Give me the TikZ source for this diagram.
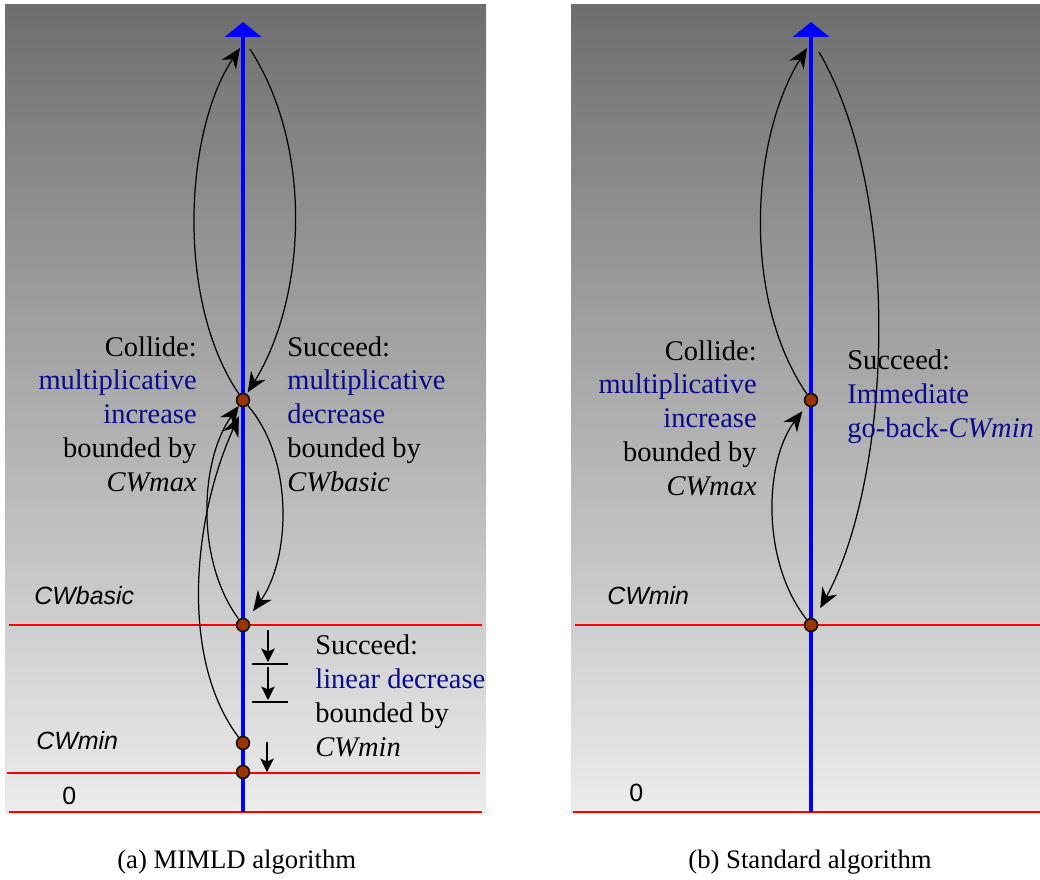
\documentclass[tikz,border=0pt]{standalone}
\usepackage{fontspec}
\setmainfont{Liberation Serif}
\setsansfont{Liberation Sans}
\usetikzlibrary{arrows.meta}
\begin{document}
\begin{tikzpicture}[x=0.02cm,y=-0.02cm,
  dot/.style={circle,draw=black,fill=dotbrown,line width=0.8pt,inner sep=0pt,minimum size=0.26cm},
  axis/.style={draw=axisblue,line width=2.3pt,-{Triangle[width=0.72cm,length=0.3cm]}},
  level/.style={draw=red,line width=1.1pt},
  move/.style={line width=0.7pt,-{Stealth[length=0.4cm,width=0.34cm,inset=0.13cm]}},
  stepdown/.style={line width=0.7pt,-{Stealth[length=0.27cm,width=0.27cm,inset=0.06cm]}},
  stepmark/.style={line width=0.8pt},
  note/.style={font=\fontsize{16.2}{19.2}\selectfont,inner sep=0pt},
  lab/.style={font=\sffamily\itshape\fontsize{14.2}{17}\selectfont,inner sep=0pt},
  caption/.style={font=\fontsize{15.2}{18}\selectfont,inner sep=0pt}]
\definecolor{bgtop}{RGB}{110,110,110}
\definecolor{bgbot}{RGB}{236,236,236}
\definecolor{axisblue}{RGB}{0,0,255}
\definecolor{txtblue}{RGB}{10,10,140}
\definecolor{dotbrown}{RGB}{153,51,0}
\useasboundingbox (0,0) rectangle (1040,879);

% (a) MIMLD algorithm
\shade[top color=bgtop,bottom color=bgbot] (5,4) rectangle (486,813);
\draw[level] (9,625) -- (482,625);
\draw[level] (7,773) -- (480,773);
\draw[level] (9,812) -- (482,812);
\draw[axis] (243,812) -- (243,22);
\node[dot] (a1) at (243,400) {};
\node[dot] (a2) at (243,625) {};
\node[dot] (a3) at (243,743) {};
\node[dot] (a4) at (243,772) {};
\coordinate (atopl) at (240,48);
\coordinate (atopr) at (250,49);

\draw[move] (a1) .. controls (175,300) and (185,130) .. (atopl);
\draw[move,shorten >=1pt] (atopr) .. controls (315,150) and (305,300) .. (a1);
\draw[move,shorten >=0.2cm] (a1) .. controls (295,460) and (290,560) .. (a2);
\draw[move] (a2) .. controls (195,560) and (200,460) .. (a1);
\draw[move,shorten >=0.2cm] (a3) .. controls (180,660) and (192,520) .. (a1.south);

\draw[stepdown] (268,630) -- (268,662);
\draw[stepmark] (252,664) -- (288,664);
\draw[stepdown] (268,667) -- (268,700);
\draw[stepmark] (252,702) -- (288,702);
\draw[stepdown] (267,742) -- (267,772);

\node[note,align=right,anchor=base east] (acollide) at (197,491)
  {Collide:\\\textcolor{txtblue}{multiplicative}\\\textcolor{txtblue}{increase}\\bounded by\\\textit{CWmax}};
\node[note,align=left,anchor=base west] (asucceed) at (287,491)
  {Succeed:\\\textcolor{txtblue}{multiplicative}\\\textcolor{txtblue}{decrease}\\bounded by\\\textit{CWbasic}};
\node[note,align=left,anchor=base west] (alinear) at (315,756)
  {Succeed:\\\textcolor{txtblue}{linear decrease}\\bounded by\\\textit{CWmin}};
\node[lab,anchor=base west] (abasic) at (34,604) {CWbasic};
\node[lab,anchor=base west] (amin) at (36,749) {CWmin};
\node[lab,font=\sffamily\fontsize{14.2}{17}\selectfont,anchor=base west] (azero) at (62,804) {0};
\node[caption,anchor=base west] (acap) at (117,868) {(a) MIMLD algorithm};

% (b) Standard algorithm
\shade[top color=bgtop,bottom color=bgbot] (571,4) rectangle (1040,813);
\draw[level] (575,625) -- (1040,625);
\draw[level] (573,812) -- (1040,812);
\draw[axis] (811,812) -- (811,22);
\node[dot] (b1) at (811,400) {};
\node[dot] (b2) at (811,625) {};
\coordinate (btopl) at (807,48);
\coordinate (btopr) at (819,52);

\draw[move] (b1) .. controls (742,300) and (750,140) .. (btopl);
\draw[move,shorten >=0.24cm] (btopr) .. controls (905,200) and (890,480) .. (b2);
\draw[move,shorten >=0.14cm] (b2) .. controls (760,560) and (765,460) .. (b1);

\node[note,align=right,anchor=base east] (bcollide) at (757,495)
  {Collide:\\\textcolor{txtblue}{multiplicative}\\\textcolor{txtblue}{increase}\\bounded by\\\textit{CWmax}};
\node[note,align=left,anchor=base west] (bsucceed) at (847,437)
  {Succeed:\\\textcolor{txtblue}{Immediate}\\\textcolor{txtblue}{go-back-\textit{CWmin}}};
\node[lab,anchor=base west] (bmin) at (607,604) {CWmin};
\node[lab,font=\sffamily\fontsize{14.2}{17}\selectfont,anchor=base west] (bzero) at (629,801) {0};
\node[caption,anchor=base west] (bcap) at (688,868) {(b) Standard algorithm};
\end{tikzpicture}
\end{document}
